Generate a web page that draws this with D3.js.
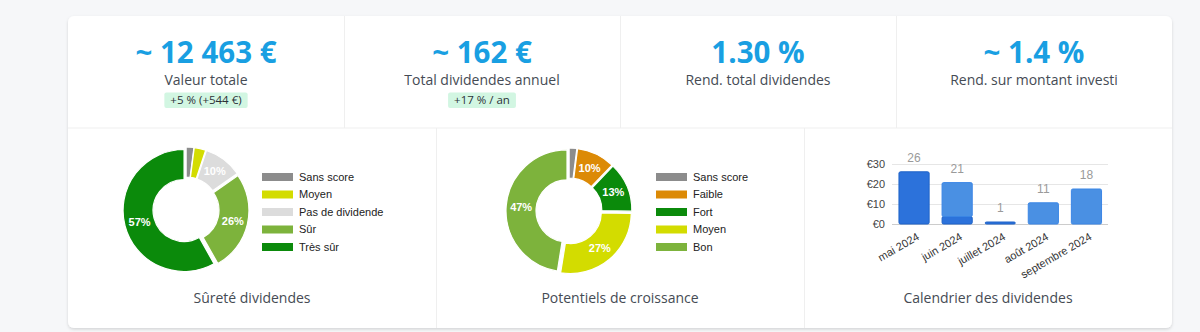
<!DOCTYPE html>
<html><head><meta charset="utf-8">
<script src="https://cdn.jsdelivr.net/npm/d3@7"></script>
<style>
html,body{margin:0;padding:0;background:#f6f7f9;}
svg{display:block;}
</style></head>
<body>
<svg id="c" width="1200" height="332"></svg>
<script>
// ---------- data ----------
const kpiValues = ["~ 12 463 €", "~ 162 €", "1.30 %", "~ 1.4 %"];
const kpiLabels = ["Valeur totale", "Total dividendes annuel", "Rend. total dividendes", "Rend. sur montant investi"];
const kpiBadges = ["+5 % (+544 €)", "+17 % / an", null, null];

const safetyCategories = ["Sans score", "Moyen", "Pas de dividende", "Sûr", "Très sûr"];
const safetyValues = [2, 3, 10, 26, 57];
const safetyColors = ["#8c8c8c", "#d3dc00", "#dcdcdc", "#7db33c", "#0b8a0b"];

const growthCategories = ["Sans score", "Faible", "Fort", "Moyen", "Bon"];
const growthValues = [2, 10, 13, 27, 47];
const growthColors = ["#8c8c8c", "#dc8a06", "#0b8a0b", "#d3dc00", "#7db33c"];

const months = ["mai 2024", "juin 2024", "juillet 2024", "août 2024", "septembre 2024"];
const paidValues = [26.1, 3.7, 1, 0, 0];
const upcomingValues = [0, 17, 0, 10.6, 17.5];
const yTicks = [0, 10, 20, 30];

const sectionTitles = ["Sûreté dividendes", "Potentiels de croissance", "Calendrier des dividendes"];

// ---------- layout ----------
const svg = d3.select("#c");
const defs = svg.append("defs");
const f = defs.append("filter").attr("id","sh").attr("x","-5%").attr("y","-5%").attr("width","110%").attr("height","115%");
f.append("feDropShadow").attr("dx",0).attr("dy",1.5).attr("stdDeviation",1.5).attr("flood-color","#000").attr("flood-opacity",0.14);

const card = {x:68, y:16, w:1104, h:312};
svg.append("rect").attr("x",card.x).attr("y",card.y).attr("width",card.w).attr("height",card.h)
  .attr("rx",6).attr("fill","#fff").attr("filter","url(#sh)");

const rowSplit = 128;
const lineCol = "#efefef";
svg.append("line").attr("x1",card.x).attr("x2",card.x+card.w).attr("y1",rowSplit).attr("y2",rowSplit).attr("stroke",lineCol);
const topX = d3.scaleBand().domain(d3.range(4)).range([card.x, card.x+card.w]);
const botX = d3.scaleBand().domain(d3.range(3)).range([card.x, card.x+card.w]);
[1,2,3].forEach(i=>svg.append("line").attr("x1",topX(i)+0.5).attr("x2",topX(i)+0.5).attr("y1",card.y).attr("y2",rowSplit).attr("stroke",lineCol));
[1,2].forEach(i=>svg.append("line").attr("x1",botX(i)+0.5).attr("x2",botX(i)+0.5).attr("y1",rowSplit).attr("y2",card.y+card.h).attr("stroke",lineCol));

const uiFont = "'Open Sans', 'Noto Sans', sans-serif";
// KPIs
kpiValues.forEach((v,i)=>{
  const cx = topX(i) + topX.bandwidth()/2;
  svg.append("text").attr("x",cx).attr("y",63).attr("text-anchor","middle")
    .attr("font-family",uiFont).attr("font-weight",700).attr("font-size",29.5).attr("fill","#199fe2").text(v);
  svg.append("text").attr("x",cx).attr("y",85).attr("text-anchor","middle")
    .attr("font-family",uiFont).attr("font-size",14).attr("fill","#454b54").text(kpiLabels[i]);
  if (kpiBadges[i]) {
    const g = svg.append("g");
    const t = g.append("text").attr("x",cx).attr("y",104).attr("text-anchor","middle")
      .attr("font-family",uiFont).attr("font-size",11.5).attr("fill","#2c3138").text(kpiBadges[i]);
    const w = t.node().getComputedTextLength() + 12;
    g.insert("rect","text").attr("x",cx-w/2).attr("y",92.5).attr("width",w).attr("height",15.5).attr("rx",2).attr("fill","#d2f6e2");
  }
});

// section titles
sectionTitles.forEach((t,i)=>{
  svg.append("text").attr("x",botX(i)+botX.bandwidth()/2).attr("y",303).attr("text-anchor","middle")
    .attr("font-family",uiFont).attr("font-size",14).attr("fill","#454b54").text(t);
});

// ---------- donuts ----------
const chartFont = "'Liberation Sans', Arial, sans-serif";
function donut(cx, cy, cats, vals, cols, legendX) {
  const g = svg.append("g").attr("transform",`translate(${cx},${cy})`);
  const rO = 61, rI = 31, off = 2;
  const pie = d3.pie().sort(null).value(d=>d)(vals);
  const arc = d3.arc().innerRadius(rI).outerRadius(rO);
  const labelArc = d3.arc().innerRadius((rI+rO)/2).outerRadius((rI+rO)/2);
  const total = d3.sum(vals);
  const s = g.selectAll("g.s").data(pie).join("g").attr("class","s")
    .attr("transform", d=>{ const a=(d.startAngle+d.endAngle)/2; return `translate(${off*Math.sin(a)},${-off*Math.cos(a)})`; });
  s.append("path").attr("d",arc).attr("fill",(d,i)=>cols[i]).attr("stroke","#fff").attr("stroke-width",1.2);
  s.filter(d=>d.value/total>0.07).append("text")
    .attr("transform",d=>`translate(${labelArc.centroid(d)})`).attr("text-anchor","middle").attr("dy","0.35em")
    .attr("font-family",chartFont).attr("font-weight",700).attr("font-size",11).attr("fill","#fff")
    .text(d=>d.value+"%");
  const lg = svg.append("g").attr("transform",`translate(${legendX},0)`);
  const ly = d3.scalePoint().domain(cats).range([177, 247]);
  cats.forEach((c,i)=>{
    lg.append("rect").attr("x",0).attr("y",ly(c)-4).attr("width",31).attr("height",8).attr("fill",cols[i]);
    lg.append("text").attr("x",37).attr("y",ly(c)).attr("dy","0.35em").attr("font-family",chartFont)
      .attr("font-size",11).attr("fill","#222").text(c);
  });
}
donut(186, 210, safetyCategories, safetyValues, safetyColors, 262);
donut(569, 211, growthCategories, growthValues, growthColors, 656);

// ---------- bars ----------
const x = d3.scaleBand().domain(months).range([892.5, 1108]).paddingInner(0.3).paddingOuter(0.15);
const y = d3.scaleLinear().domain([0, 30]).range([224, 164]);
const bg = svg.append("g");
bg.selectAll("line.grid").data(yTicks).join("line").attr("class","grid")
  .attr("x1",892).attr("x2",1108).attr("y1",d=>y(d)+0.5).attr("y2",d=>y(d)+0.5)
  .attr("stroke",d=>d===0?"#cccccc":"#e6e6e6");
const yAxis = d3.axisLeft(y).tickValues(yTicks).tickSize(0).tickPadding(6).tickFormat(d=>"€"+d);
const ya = svg.append("g").attr("transform","translate(891,0)").call(yAxis);
ya.select(".domain").remove();
ya.selectAll("text").attr("font-family",chartFont).attr("font-size",11).attr("fill","#444");

const stack = d3.stack().keys(["paid","upcoming"])(months.map((m,i)=>({m, paid:paidValues[i], upcoming:upcomingValues[i]})));
const barCols = {paid:"#2c72db", upcoming:"#4a90e3"};
const strokeCols = {paid:"#1f63c8", upcoming:"#3b86e6"};
stack.forEach(layer=>{
  bg.selectAll(null).data(layer.filter(d=>d[1]-d[0]>0)).join("rect")
    .attr("x",d=>x(d.data.m)).attr("width",x.bandwidth())
    .attr("y",d=>y(d[1])).attr("height",d=>y(d[0])-y(d[1]))
    .attr("rx",1.5).attr("fill",barCols[layer.key]).attr("stroke",strokeCols[layer.key]).attr("stroke-width",1);
});
// totals
bg.selectAll("text.tot").data(months).join("text").attr("class","tot")
  .attr("x",m=>x(m)+x.bandwidth()/2)
  .attr("y",(m,i)=>y(paidValues[i]+upcomingValues[i])-10)
  .attr("text-anchor","middle").attr("font-family",chartFont).attr("font-size",12).attr("fill","#9a9a9a")
  .text((m,i)=>Math.round(paidValues[i]+upcomingValues[i]));
// x labels
const xa = svg.append("g").attr("transform","translate(0,224)").call(d3.axisBottom(x).tickSize(0).tickPadding(0));
xa.select(".domain").remove();
xa.selectAll("text").attr("font-family",chartFont).attr("font-size",11).attr("fill","#333")
  .attr("text-anchor","end").attr("dy",0).attr("y",0)
  .attr("transform","translate(6,15) rotate(-30)");
</script>
</body></html>
